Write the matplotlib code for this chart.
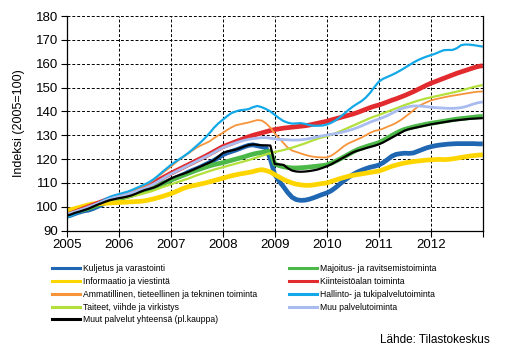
import matplotlib
matplotlib.use('Agg')
import matplotlib.pyplot as plt
import numpy as np

plt.rcParams['font.family'] = ['Liberation Sans', 'DejaVu Sans']

# Monthly index values, 2005M01 .. 2013M01
kuljetus = [96.0, 96.5, 97.2, 97.8, 98.3, 98.6, 99.2, 100.0, 100.8, 101.8, 102.8, 103.6,
            104.2, 104.6, 105.0, 105.6, 106.3, 106.8, 107.2, 107.6, 108.3, 109.0, 109.8, 110.4,
            111.3, 112.0, 112.8, 113.6, 114.5, 115.3, 116.0, 116.8, 117.7, 118.6, 119.5, 120.6,
            121.8, 122.6, 123.2, 123.8, 124.5, 125.2, 125.8, 126.0, 125.6, 125.2, 124.8, 120.0,
            113.5, 110.8, 108.5, 106.0, 104.0, 103.0, 102.7, 102.8, 103.2, 103.8, 104.5, 105.2,
            105.8, 106.7, 108.0, 109.5, 111.0, 112.3, 113.5, 114.5, 115.3, 116.0, 116.6, 117.0,
            117.5, 118.5, 119.8, 121.2, 122.0, 122.3, 122.5, 122.4, 122.6, 123.3, 124.0, 124.7,
            125.2, 125.6, 125.9, 126.1, 126.3, 126.4, 126.5, 126.5, 126.5, 126.5, 126.5, 126.4,
            126.4]
majoitus = [96.8, 97.3, 97.8, 98.3, 98.8, 99.4, 100.0, 100.7, 101.4, 102.0, 102.5, 103.0,
            103.4, 103.8, 104.3, 104.8, 105.4, 106.0, 106.7, 107.3, 108.0, 108.8, 109.6, 110.4,
            111.2, 111.9, 112.6, 113.3, 114.0, 114.7, 115.4, 116.0, 116.6, 117.2, 117.7, 118.1,
            118.5, 119.0, 119.5, 120.0, 120.5, 121.0, 121.6, 122.1, 122.5, 122.8, 123.1, 123.3,
            118.0, 117.3, 116.8, 116.5, 116.3, 116.3, 116.4, 116.5, 116.7, 116.9, 117.1, 117.3,
            117.6, 118.3, 119.1, 120.0, 121.0, 122.0, 123.0, 123.9, 124.6, 125.2, 125.8, 126.3,
            126.9, 127.8, 128.8, 129.9, 130.9, 131.8, 132.5, 133.0, 133.5, 133.9, 134.3, 134.7,
            135.0, 135.3, 135.6, 135.9, 136.2, 136.5, 136.8, 137.0, 137.2, 137.4, 137.6, 137.8,
            137.9]
informaatio = [98.5, 98.8, 99.3, 99.8, 100.3, 100.8, 101.2, 101.3, 101.4, 101.5, 101.6, 101.7,
               101.8, 101.9, 102.0, 102.1, 102.2, 102.3, 102.5, 102.9, 103.3, 103.8, 104.3, 104.9,
               105.5, 106.2, 107.0, 107.8, 108.4, 108.8, 109.2, 109.6, 110.0, 110.5, 111.0, 111.5,
               112.0, 112.5, 113.0, 113.4, 113.8, 114.1, 114.4, 114.8, 115.3, 115.6, 115.2, 114.6,
               113.5, 112.5, 111.5, 110.7, 110.0, 109.5, 109.2, 109.0, 109.0, 109.2, 109.5, 109.8,
               110.0, 110.6, 111.2, 111.8, 112.3, 112.8, 113.2, 113.5, 113.8, 114.1, 114.4, 114.7,
               115.0, 115.6, 116.3, 117.0, 117.5, 118.0, 118.4, 118.7, 119.0, 119.2, 119.4, 119.6,
               119.7, 119.8, 119.9, 119.8, 119.9, 120.1, 120.4, 120.7, 121.0, 121.3, 121.5, 121.7,
               121.8]
kiinteisto = [96.5, 97.2, 97.9, 98.6, 99.3, 100.0, 100.7, 101.4, 102.1, 102.8, 103.4, 104.0,
              104.4, 104.9, 105.5, 106.1, 106.8, 107.5, 108.2, 109.0, 110.0, 111.0, 112.0, 113.0,
              114.0, 114.9, 115.8, 116.7, 117.6, 118.5, 119.4, 120.3, 121.2, 122.2, 123.2, 124.2,
              125.2, 125.9, 126.6, 127.3, 128.0, 128.7, 129.4, 130.0, 130.5, 131.0, 131.5, 132.0,
              132.4, 132.7, 133.0, 133.2, 133.4, 133.6, 133.8, 134.0, 134.3, 134.7, 135.1, 135.5,
              135.9, 136.4, 136.9, 137.4, 137.9, 138.4, 138.9, 139.5, 140.2, 140.9, 141.6, 142.2,
              142.7, 143.3, 144.0, 144.7, 145.3, 146.0, 146.7, 147.5, 148.3, 149.2, 150.1, 151.0,
              151.8, 152.5, 153.2, 153.9, 154.6, 155.3, 156.0, 156.6, 157.2, 157.8, 158.4, 158.9,
              159.2]
ammatillinen = [95.8, 96.5, 97.3, 98.0, 98.8, 99.6, 100.4, 101.2, 102.0, 102.8, 103.6, 104.3,
                104.9, 105.4, 106.0, 106.6, 107.3, 108.1, 109.0, 110.0, 111.2, 112.6, 114.0, 115.4,
                116.8, 118.3, 119.8, 121.0, 122.3, 123.6, 124.8, 125.8, 126.6, 127.5, 128.8, 130.0,
                131.0, 132.2, 133.3, 134.2, 134.6, 135.0, 135.4, 135.9, 136.4, 136.2, 135.0, 133.2,
                130.8, 128.8, 126.8, 124.8, 123.6, 123.0, 122.4, 121.8, 121.3, 121.0, 120.8, 120.7,
                120.7, 121.4, 122.6, 124.0, 125.5, 126.6, 127.4, 128.2, 129.0, 130.0, 131.0, 131.8,
                132.2, 132.8, 133.6, 134.3, 135.2, 136.3, 137.6, 139.0, 140.5, 142.0, 143.0, 143.8,
                144.6, 145.1, 145.5, 145.9, 146.3, 146.6, 146.9, 147.2, 147.5, 147.8, 148.1, 148.3,
                148.4]
hallinto = [95.5, 96.2, 97.0, 97.8, 98.6, 99.4, 100.3, 101.3, 102.3, 103.3, 104.2, 104.8,
            105.3, 105.8, 106.3, 107.0, 107.8, 108.6, 109.4, 110.3, 111.5, 112.9, 114.5, 116.0,
            117.5, 118.8, 120.0, 121.2, 122.5, 124.0, 125.6, 127.2, 129.0, 131.0, 133.2, 135.0,
            136.5, 138.0, 139.3, 140.0, 140.5, 140.7, 141.0, 141.8, 142.3, 141.8, 141.0, 140.0,
            138.6, 137.2, 136.0, 135.3, 134.9, 135.0, 135.1, 134.8, 134.3, 134.0, 134.0, 134.1,
            134.5, 135.2, 136.2, 137.5, 139.0, 140.6, 142.0, 143.2, 144.3, 145.8, 147.8, 150.2,
            152.5, 153.7, 154.5, 155.3, 156.2, 157.2, 158.3, 159.4, 160.5, 161.5, 162.3, 163.0,
            163.6, 164.2, 165.0, 165.7, 165.8, 165.8, 166.5, 167.8, 168.1, 168.0, 167.8, 167.5,
            167.2]
taiteet = [97.0, 97.5, 98.0, 98.6, 99.2, 99.8, 100.4, 101.0, 101.6, 102.2, 102.7, 103.1,
           103.4, 103.7, 104.0, 104.4, 104.8, 105.2, 105.7, 106.2, 106.8, 107.5, 108.2, 108.8,
           109.4, 110.0, 110.6, 111.2, 111.8, 112.5, 113.2, 113.8, 114.4, 115.0, 115.6, 116.1,
           116.6, 117.1, 117.6, 118.1, 118.6, 119.1, 119.6, 120.2, 120.8, 121.4, 122.0, 122.5,
           123.0, 123.4, 123.8, 124.3, 124.8, 125.4, 126.0, 126.6, 127.3, 128.0, 128.6, 129.2,
           129.6, 130.2, 130.9, 131.6, 132.4, 133.2, 134.0, 134.8, 135.6, 136.4, 137.2, 137.9,
           138.5, 139.2, 139.9, 140.6, 141.3, 142.0, 142.7, 143.3, 143.9, 144.5, 145.0, 145.5,
           145.9, 146.3, 146.7, 147.1, 147.5, 147.9, 148.3, 148.8, 149.3, 149.8, 150.3, 150.7,
           151.1]
muu_palvelu = [96.8, 97.4, 98.0, 98.6, 99.2, 99.9, 100.6, 101.3, 102.0, 102.7, 103.3, 103.9,
               104.3, 104.7, 105.2, 105.8, 106.4, 107.1, 107.8, 108.6, 109.5, 110.5, 111.6, 112.7,
               113.7, 114.6, 115.5, 116.4, 117.3, 118.2, 119.1, 120.0, 120.9, 121.8, 122.8, 123.8,
               124.8, 125.5, 126.2, 126.8, 127.4, 127.9, 128.3, 128.6, 128.8, 129.0, 129.0, 128.8,
               128.5, 128.3, 128.2, 128.1, 128.0, 128.0, 128.1, 128.3, 128.6, 129.0, 129.4, 129.8,
               130.1, 130.4, 130.7, 131.1, 131.5, 132.0, 132.5, 133.2, 133.9, 134.7, 135.5, 136.2,
               136.8, 137.5, 138.3, 139.2, 140.1, 141.0, 141.6, 142.0, 142.3, 142.3, 142.2, 142.0,
               141.8, 141.6, 141.5, 141.4, 141.3, 141.3, 141.4, 141.6, 142.0, 142.6, 143.2, 143.7,
               144.0]
muut_yhteensa = [96.3, 96.8, 97.5, 98.0, 98.6, 99.2, 100.0, 100.8, 101.5, 102.2, 102.8, 103.2,
                 103.6, 103.9, 104.3, 104.8, 105.5, 106.3, 107.0, 107.5, 108.0, 108.8, 109.8, 110.8,
                 111.8, 112.6, 113.3, 113.9, 114.6, 115.4, 116.2, 117.0, 117.8, 118.6, 119.6, 121.0,
                 122.5, 123.2, 123.6, 124.0, 124.6, 125.3, 125.9, 126.2, 126.0, 125.8, 125.8, 125.7,
                 118.0, 117.8, 117.6, 116.2, 115.2, 114.8, 114.7, 114.8, 115.0, 115.3, 115.7, 116.3,
                 117.0, 117.8, 118.8, 119.8, 120.8, 121.8, 122.8, 123.5, 124.0, 124.6, 125.1, 125.6,
                 126.2, 127.0, 128.0, 129.0, 130.0, 131.0, 132.0, 132.6, 133.0, 133.4, 133.8, 134.2,
                 134.6, 134.9, 135.2, 135.5, 135.8, 136.1, 136.3, 136.5, 136.7, 136.9, 137.0, 137.1,
                 137.2]

years = [2005, 2006, 2007, 2008, 2009, 2010, 2011, 2012]
months = 2005 + np.arange(len(kuljetus)) / 12.0

# name, values, colour, line width
series = [
    ('Kuljetus ja varastointi', kuljetus, '#1F66B3', 3.4),
    ('Majoitus- ja ravitsemistoiminta', majoitus, '#4CB848', 3.4),
    ('Informaatio ja viestintä', informaatio, '#FFD500', 3.4),
    ('Kiinteistöalan toiminta', kiinteisto, '#E22B2F', 3.4),
    ('Ammatillinen, tieteellinen ja tekninen toiminta', ammatillinen, '#F7943A', 1.3),
    ('Hallinto- ja tukipalvelutoiminta', hallinto, '#13A8E8', 1.6),
    ('Taiteet, viihde ja virkistys', taiteet, '#B3E03A', 1.6),
    ('Muu palvelutoiminta', muu_palvelu, '#A9BCF0', 2.0),
    ('Muut palvelut yhteensä (pl.kauppa)', muut_yhteensa, '#000000', 1.6),
]

fig = plt.figure(figsize=(5.05, 3.5), dpi=100)
ax = fig.add_axes([0.132, 0.341, 0.824, 0.613])

lines = {}
for name, vals, col, lw in series:
    ln, = ax.plot(months, vals, color=col, lw=lw, solid_capstyle='butt')
    lines[name] = ln

ax.set_xlim(2005, 2013)
ax.set_ylim(90, 180)
ax.set_yticks(range(90, 181, 10))
ax.set_xticks(years + [2013])
ax.set_xticklabels([str(y) for y in years] + [''])
ax.tick_params(axis='both', labelsize=9.5, direction='out', length=4, width=0.8, pad=2)
ax.grid(True, color='black', linestyle=(0, (3, 2)), linewidth=0.7)
ax.spines['top'].set_visible(False)
for s in ['left', 'bottom', 'right']:
    ax.spines[s].set_linewidth(0.9)
ax.set_ylabel('Indeksi (2005=100)', fontsize=9, labelpad=8)

# Legend in two columns, like the original
left_names = ['Kuljetus ja varastointi', 'Informaatio ja viestintä',
              'Ammatillinen, tieteellinen ja tekninen toiminta',
              'Taiteet, viihde ja virkistys', 'Muut palvelut yhteensä (pl.kauppa)']
right_names = ['Majoitus- ja ravitsemistoiminta', 'Kiinteistöalan toiminta',
               'Hallinto- ja tukipalvelutoiminta', 'Muu palvelutoiminta']
leg_font = {'family': ['Liberation Sans Narrow', 'Liberation Sans'], 'size': 6.2}
for names, x0 in [(left_names, 52 / 505), (right_names, 289 / 505)]:
    handles = [plt.Line2D([], [], color=lines[n].get_color(), lw=2.2) for n in names]
    fig.legend(handles, names, loc='upper left', bbox_to_anchor=(x0, 1 - 264 / 350),
               frameon=False, prop=leg_font, handlelength=3.3, handletextpad=0.3,
               labelspacing=0.45, borderpad=0, borderaxespad=0)

fig.text(490 / 505, 1 - 340 / 350, 'Lähde: Tilastokeskus', ha='right', va='center', fontsize=8.5)

plt.savefig('out.png', dpi=100)
